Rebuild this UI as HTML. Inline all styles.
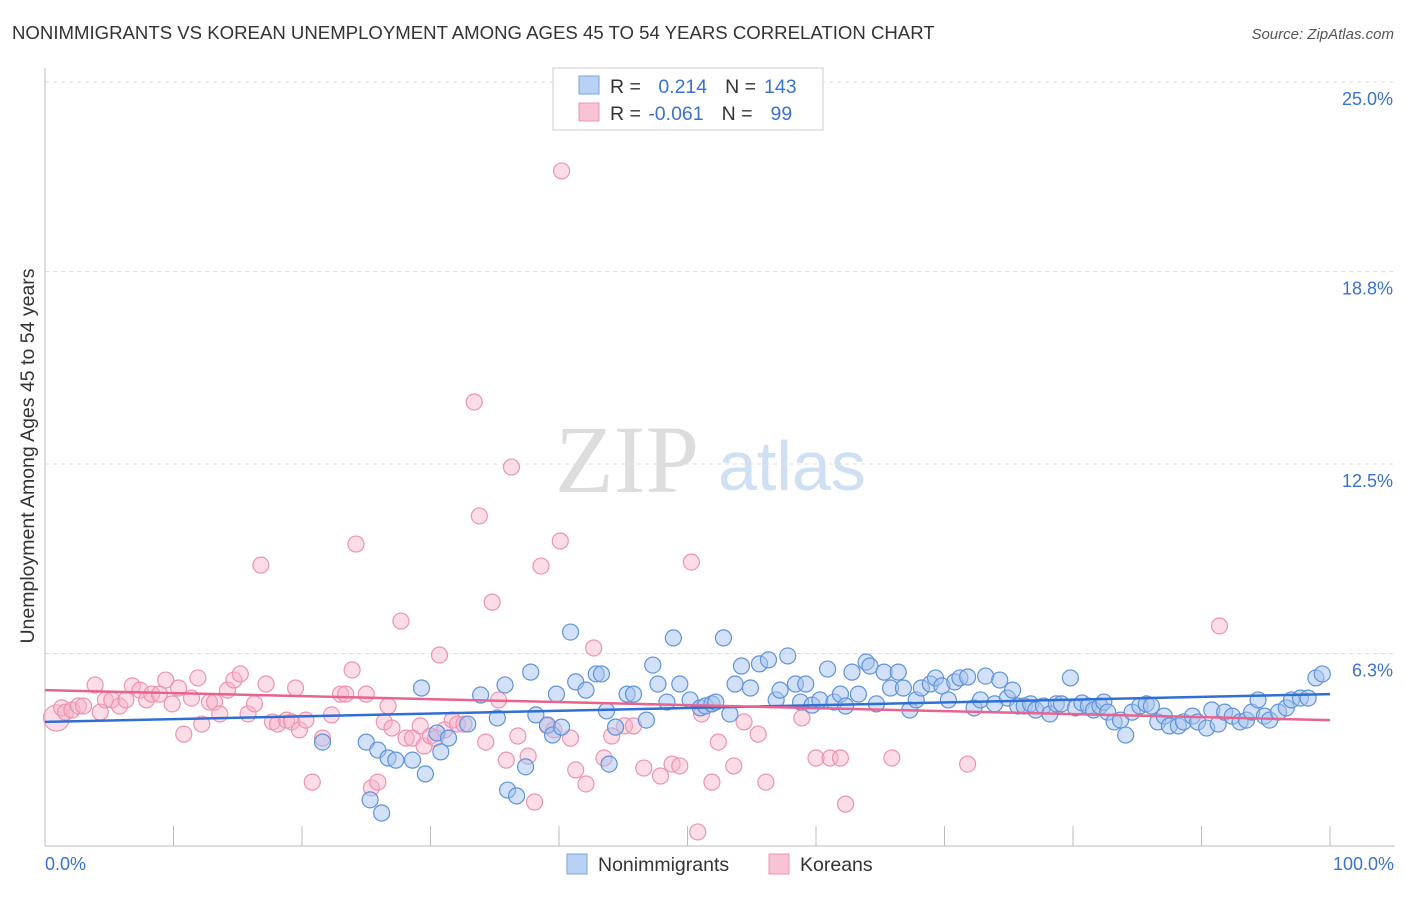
<!DOCTYPE html>
<html><head><meta charset="utf-8"><style>
body{margin:0;background:#fff;font-family:"Liberation Sans",sans-serif}
#wrap{position:relative;width:1406px;height:892px}
</style></head><body>
<div id="wrap">
<svg id="chart" width="1406" height="892" xmlns="http://www.w3.org/2000/svg">
<text x="12" y="39" font-size="18.6" fill="#333">NONIMMIGRANTS VS KOREAN UNEMPLOYMENT AMONG AGES 45 TO 54 YEARS CORRELATION CHART</text>
<text x="1394" y="39" font-size="15" fill="#555" font-style="italic" text-anchor="end">Source: ZipAtlas.com</text>
<text x="555" y="492" font-size="96" fill="#ddd" font-family="Liberation Serif">ZIP</text>
<text x="718" y="490" font-size="70" fill="#cfe0f4">atlas</text>
<text transform="translate(34,456) rotate(-90)" font-size="19.5" fill="#333" text-anchor="middle">Unemployment Among Ages 45 to 54 years</text>
<g id="grid"></g><g id="axes"></g><g id="pts"></g><g id="trends"></g>
<g>
<rect x="553" y="68" width="270" height="62" fill="#fff" stroke="#ccc"/>
<rect x="579" y="76" width="20" height="18" fill="#b9d1f3" stroke="#7aa3e0"/>
<rect x="579" y="103" width="20" height="18" fill="#f8c3d4" stroke="#eb96b3"/>
<text x="610" y="93" font-size="19.5" fill="#333">R = <tspan fill="#3a72d0" dx="12">0.214</tspan><tspan dx="18" fill="#333">N =</tspan><tspan dx="8" fill="#3a72d0">143</tspan></text>
<text x="610" y="120" font-size="19.5" fill="#333">R = <tspan fill="#3a72d0" dx="2">-0.061</tspan><tspan dx="18" fill="#333">N =</tspan><tspan dx="18" fill="#3a72d0">99</tspan></text>
</g>
<g>
<rect x="567" y="854" width="20" height="20" fill="#b9d1f3" stroke="#7aa3e0"/>
<text x="598" y="871" font-size="19.5" fill="#333">Nonimmigrants</text>
<rect x="769" y="854" width="20" height="20" fill="#f8c3d4" stroke="#eb96b3"/>
<text x="800" y="871" font-size="19.5" fill="#333">Koreans</text>
</g>
</svg>
</div>
<script>
const yTicks=[6.3,12.5,18.8,25.0];
const yTickLabels=["6.3%","12.5%","18.8%","25.0%"];
const xTickLabels=["0.0%","100.0%"];
const blueX=[29.3,21.6,25.0,25.9,26.7,27.3,28.6,29.6,25.3,26.2,30.5,30.8,31.4,32.9,33.9,35.2,35.8,36.0,36.7,37.4,37.8,38.2,39.1,39.5,39.8,40.2,40.9,41.3,42.1,42.9,43.3,43.7,43.9,44.4,45.3,45.8,46.8,47.3,47.7,48.4,48.9,49.4,50.2,51.0,51.4,51.9,52.2,52.8,53.3,53.7,54.2,54.9,55.6,56.3,56.9,57.2,57.8,58.4,58.8,59.2,59.7,60.3,60.9,61.4,61.9,62.3,62.8,63.3,63.9,64.2,64.7,65.3,65.8,66.4,66.8,67.3,67.8,68.2,68.9,69.3,69.8,70.3,70.8,71.2,71.8,72.3,72.8,73.2,73.9,74.3,74.9,75.3,75.7,76.2,76.7,77.1,77.7,78.2,78.7,79.1,79.8,80.2,80.7,81.2,81.6,82.1,82.4,82.7,83.2,83.7,84.1,84.6,85.2,85.7,86.1,86.6,87.1,87.5,88.2,88.6,89.3,89.7,90.4,90.8,91.3,91.8,92.4,93.0,93.5,93.9,94.4,94.9,95.3,96.0,96.6,97.0,97.7,98.3,98.9,99.4];
const blueY=[5.17,3.40,3.40,3.14,2.88,2.81,2.81,2.36,1.51,1.08,3.70,3.08,3.53,3.99,4.94,4.19,5.27,1.83,1.64,2.59,5.69,4.29,3.96,3.63,4.97,3.89,7.00,5.37,5.10,5.63,5.63,4.42,2.68,3.89,4.97,4.97,4.12,5.92,5.30,4.71,6.81,5.30,4.78,4.52,4.58,4.65,4.71,6.81,4.32,5.30,5.89,5.17,5.96,6.09,4.78,5.10,6.22,5.30,4.71,5.30,4.61,4.78,5.79,4.71,4.97,4.58,5.69,4.97,6.02,5.89,4.65,5.69,5.17,5.69,5.17,4.45,4.78,5.17,5.30,5.50,5.24,4.78,5.37,5.50,5.53,4.52,4.78,5.56,4.65,5.43,4.84,5.10,4.58,4.58,4.65,4.45,4.58,4.32,4.65,4.65,5.50,4.52,4.68,4.58,4.45,4.58,4.71,4.38,4.06,4.12,3.63,4.38,4.58,4.65,4.58,4.06,4.25,3.93,3.93,4.06,4.25,4.06,3.86,4.45,3.99,4.38,4.25,4.06,4.12,4.38,4.78,4.25,4.12,4.38,4.52,4.78,4.84,4.84,5.50,5.63];
const pinkX=[0.9,1.3,1.6,2.1,2.6,3.0,3.9,4.3,4.7,5.2,5.8,6.3,6.8,7.4,7.9,8.3,8.9,9.4,9.9,10.4,10.8,11.4,11.9,12.2,12.8,13.2,13.6,14.2,14.7,15.2,15.8,16.3,16.8,17.2,17.7,18.1,18.8,19.2,19.5,19.8,20.3,20.8,21.6,22.3,23.0,23.4,23.9,24.2,25.0,25.4,25.9,26.4,26.7,27.0,27.7,28.1,28.6,29.2,29.5,30.0,30.4,30.7,31.1,31.7,32.1,32.6,33.4,33.8,34.3,34.8,35.3,35.9,36.3,36.8,37.6,38.1,38.6,39.1,39.6,40.1,40.2,40.9,41.3,42.1,42.7,43.5,44.1,45.1,45.8,46.6,47.9,48.8,49.4,50.3,50.8,51.1,51.9,52.4,53.6,54.4,55.5,56.1,58.9,60.0,61.1,61.9,62.3,65.9,71.8,91.4];
const pinkY=[4.19,4.52,4.38,4.45,4.58,4.58,5.27,4.38,4.78,4.78,4.58,4.78,5.24,5.10,4.78,4.97,4.97,5.43,4.65,5.17,3.66,4.84,5.50,3.99,4.71,4.71,4.32,5.10,5.43,5.63,4.32,4.65,9.19,5.30,4.06,3.99,4.12,4.06,5.17,3.80,4.12,2.09,3.53,4.29,4.97,4.97,5.76,9.88,4.97,1.90,2.09,4.06,4.58,3.86,7.36,3.53,3.53,3.93,3.27,3.60,3.53,6.25,3.80,4.12,3.99,3.99,14.53,10.80,3.40,7.98,4.78,2.81,12.40,3.60,2.94,1.44,9.16,3.93,3.80,9.98,22.09,3.53,2.49,2.03,6.48,2.88,3.60,3.93,3.93,2.55,2.29,2.68,2.62,9.29,0.46,4.32,2.09,3.40,2.62,4.06,3.66,2.09,4.19,2.88,2.88,2.88,1.37,2.88,2.68,7.20];
const blueTrend=[4.06,4.97];
const pinkTrend=[5.10,4.12];
const NS="http://www.w3.org/2000/svg";
const X0=45,X1=1330,Y0=846,YS=30.56;
function xs(v){return X0+(X1-X0)*v/100;}
function ys(v){return Y0-v*YS;}
function mk(tag,attrs,parent){const e=document.createElementNS(NS,tag);for(const k in attrs)e.setAttribute(k,attrs[k]);document.getElementById(parent).appendChild(e);return e;}
yTicks.forEach((t,i)=>{
 const l=mk('line',{x1:X0,x2:1395,y1:ys(t),y2:ys(t),stroke:'#ddd','stroke-dasharray':'4,4'},'grid');
 
 
 const tx=mk('text',{x:1393,y:ys(t)+23,'font-size':18,fill:'#3a72d0','text-anchor':'end'},'grid');
 tx.textContent=yTickLabels[i];
 
 
});
const ya=mk('line',{x1:X0,x2:X0,y1:68,y2:Y0,stroke:'#bbb'},'axes');


const xa=mk('line',{x1:X0,x2:1395,y1:Y0,y2:Y0,stroke:'#bbb'},'axes');


for(let i=1;i<=10;i++){
 const t=mk('line',{x1:xs(i*10),x2:xs(i*10),y1:826,y2:Y0,stroke:'#bbb'},'axes');
 
 
}
[[0,'start',45],[100,'end',1394]].forEach((d,i)=>{
 const tx=mk('text',{x:d[2],y:870,'font-size':18,fill:'#3a72d0','text-anchor':d[1]},'axes');
 tx.textContent=xTickLabels[i];
 
 
});
pinkX.forEach((x,i)=>{
 const c=mk('circle',{cx:xs(x),cy:ys(pinkY[i]),r:i===0?13:8,fill:'rgba(246,178,201,0.45)',stroke:'#eb94b2','stroke-width':1.2},'pts');
 
 
});
blueX.forEach((x,i)=>{
 const c=mk('circle',{cx:xs(x),cy:ys(blueY[i]),r:8,fill:'rgba(165,196,240,0.5)',stroke:'#5f93dc','stroke-width':1.2},'pts');
 
 
});
const bt=mk('line',{x1:xs(0),x2:xs(100),y1:ys(blueTrend[0]),y2:ys(blueTrend[1]),stroke:'#2f6fd4','stroke-width':2.5},'trends');


const pt=mk('line',{x1:xs(0),x2:xs(100),y1:ys(pinkTrend[0]),y2:ys(pinkTrend[1]),stroke:'#e8638f','stroke-width':2.5},'trends');


</script>
</body></html>
